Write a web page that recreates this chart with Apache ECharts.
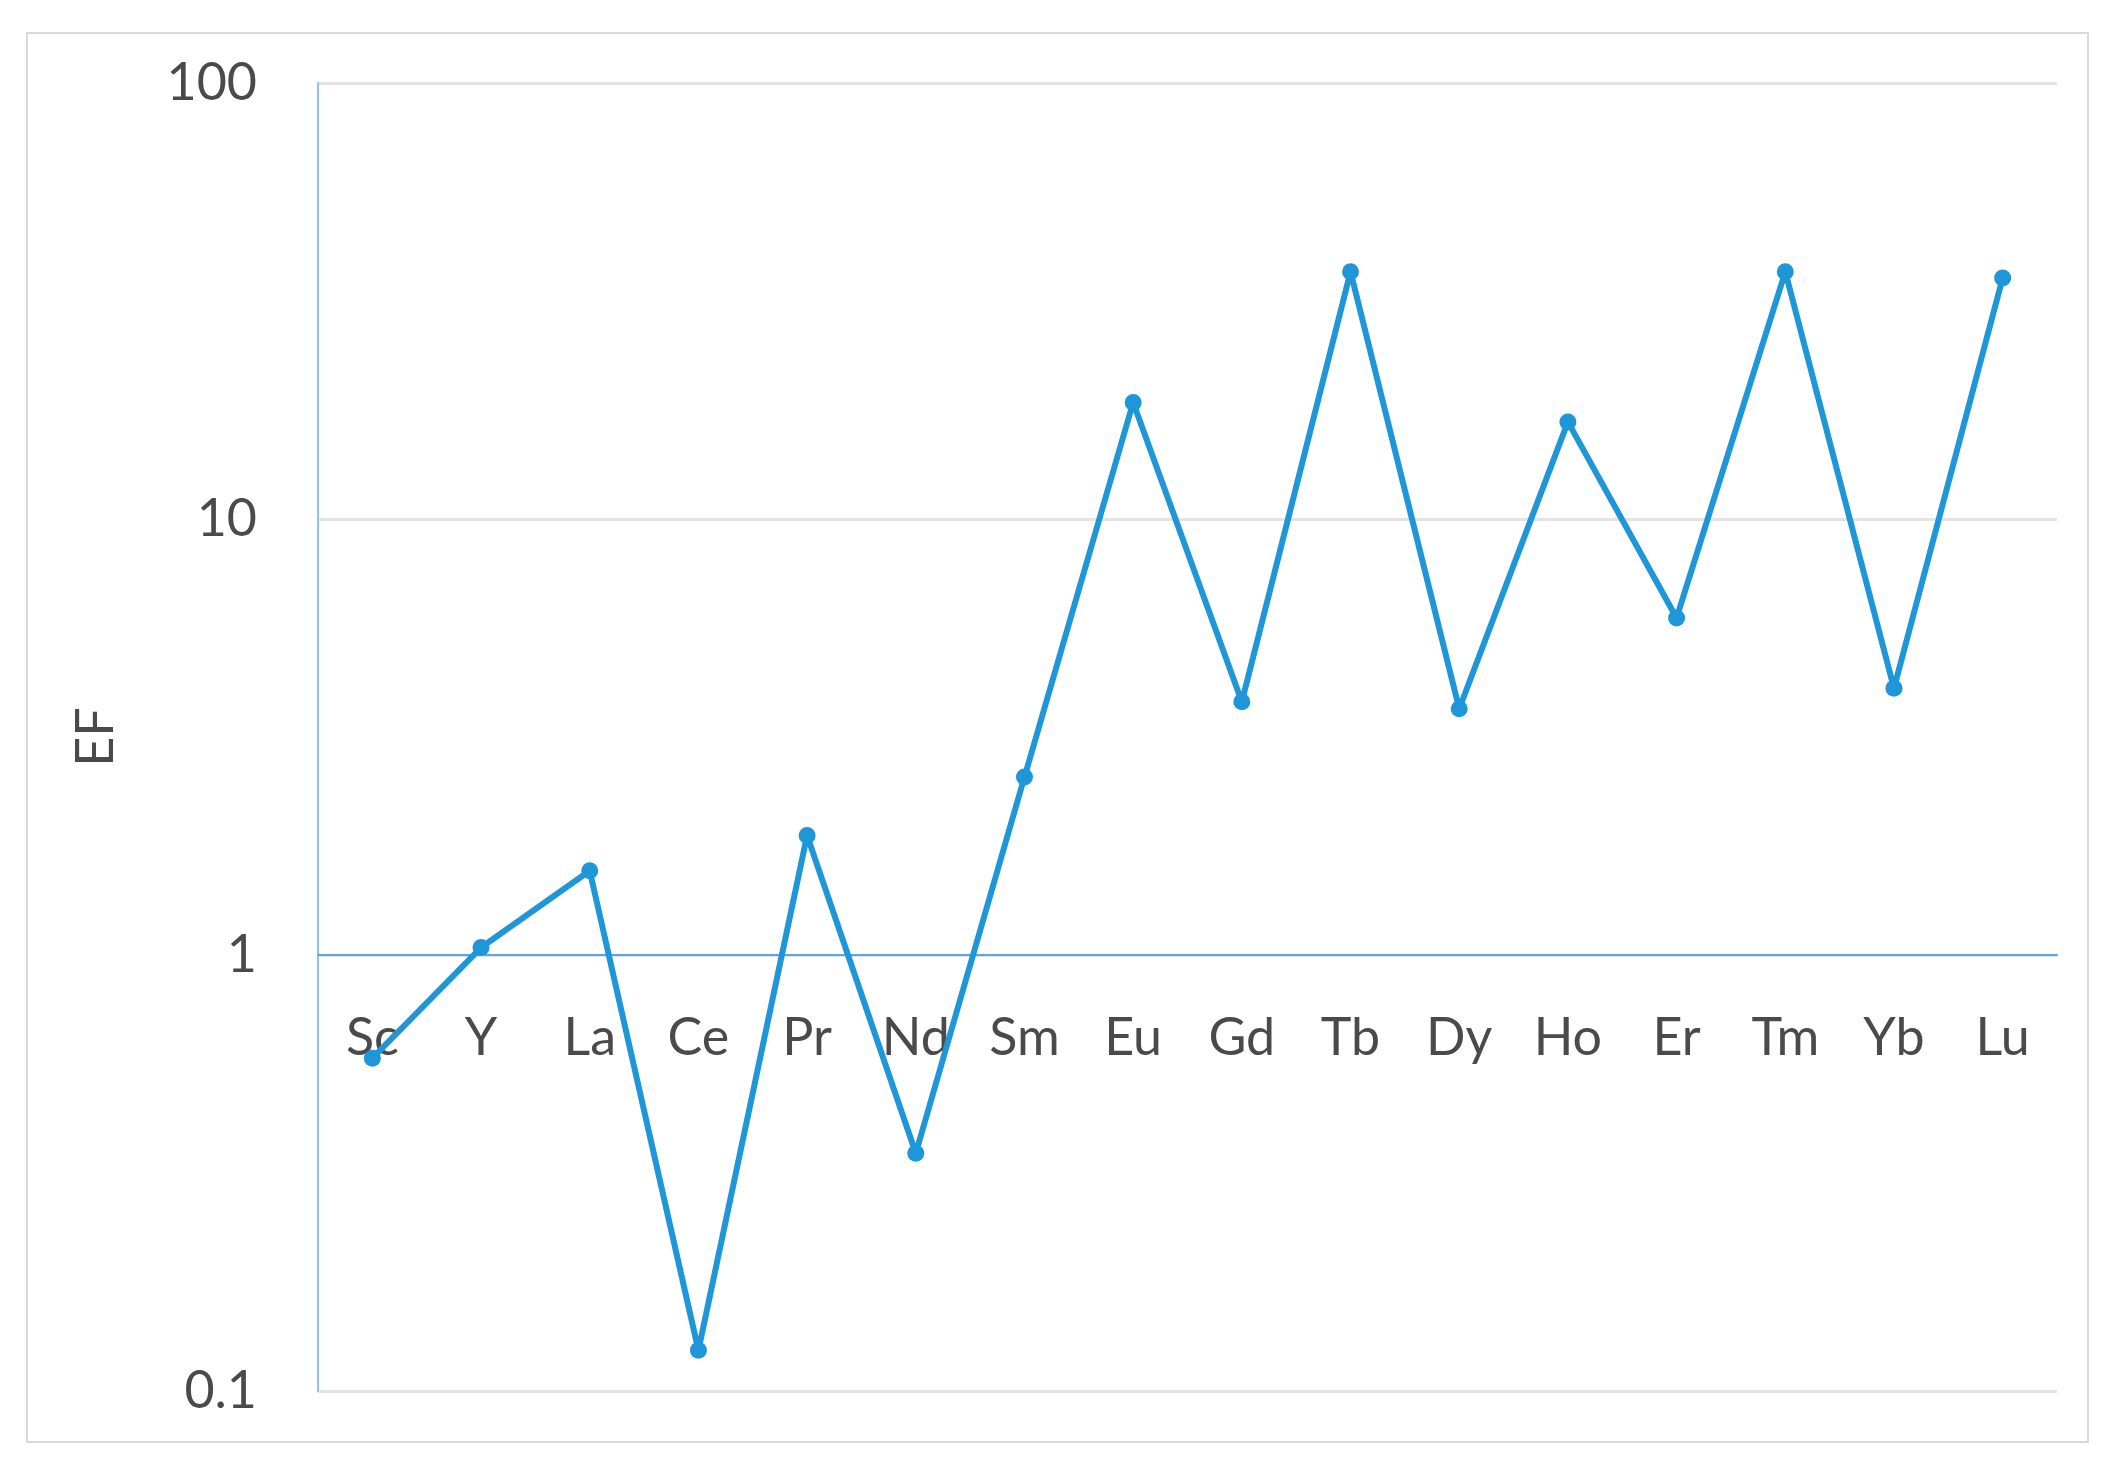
<!DOCTYPE html>
<html>
<head>
<meta charset="utf-8">
<script src="https://cdn.jsdelivr.net/npm/echarts@6/dist/echarts.min.js"></script>
<style>html,body{margin:0;padding:0;background:#fff;}#c{width:2123px;height:1479px;}</style>
</head>
<body>
<div id="c"></div>
<script>
const categories = ['Sc','Y','La','Ce','Pr','Nd','Sm','Eu','Gd','Tb','Dy','Ho','Er','Tm','Yb','Lu'];
const efValues = [0.58, 1.04, 1.56, 0.124, 1.88, 0.351, 2.56, 18.5, 3.81, 36.9, 3.67, 16.7, 5.93, 36.9, 4.09, 35.7];
const yMin = 0.1, yMax = 100;
const yName = 'EF';

const W = 2123, H = 1479;
const gTop = 83, gBottom = 88, gLeft = 318, gRight = 66;
const gH = H - gTop - gBottom;
const decades = Math.log10(yMax) - Math.log10(yMin);
const axisAtOneOffset = -gH * (Math.log10(1) - Math.log10(yMin)) / decades;

const font = 'Lato, "Open Sans", sans-serif';
const textColor = '#4a4a4a';
const chart = echarts.init(document.getElementById('c'), null, {renderer: 'canvas'});
chart.setOption({
  backgroundColor: '#ffffff',
  animation: false,
  graphic: [{
    type: 'rect', silent: true, z: -10,
    shape: {x: 27, y: 33, width: 2061, height: 1409},
    style: {fill: 'none', stroke: '#d9d9d9', lineWidth: 2}
  }],
  grid: {left: gLeft, right: gRight, top: gTop, bottom: gBottom, containLabel: false},
  xAxis: {
    type: 'category',
    data: categories,
    boundaryGap: true,
    position: 'bottom',
    offset: axisAtOneOffset,
    axisLine: {show: true, lineStyle: {color: '#5ba6e2', width: 2}},
    axisTick: {show: false},
    splitLine: {show: false},
    axisLabel: {color: textColor, fontSize: 52, fontFamily: font, margin: 57, interval: 0}
  },
  yAxis: {
    type: 'log',
    logBase: 10,
    min: yMin,
    max: yMax,
    name: yName,
    nameLocation: 'middle',
    nameRotate: 90,
    nameGap: 196,
    nameTextStyle: {color: textColor, fontSize: 52, fontFamily: font},
    axisLine: {show: true, lineStyle: {color: '#8cc2ec', width: 2}},
    axisTick: {show: false},
    splitLine: {show: true, lineStyle: {color: '#e3e3e3', width: 3}},
    axisLabel: {color: textColor, fontSize: 52, fontFamily: font, margin: 61,
      formatter: function (v) { return String(+v.toPrecision(6)); }}
  },
  series: [{
    type: 'line',
    data: efValues,
    symbol: 'circle',
    symbolSize: 17,
    lineStyle: {color: '#1e96d8', width: 6},
    itemStyle: {color: '#1e96d8'},
    z: 5
  }]
});
</script>
</body>
</html>
